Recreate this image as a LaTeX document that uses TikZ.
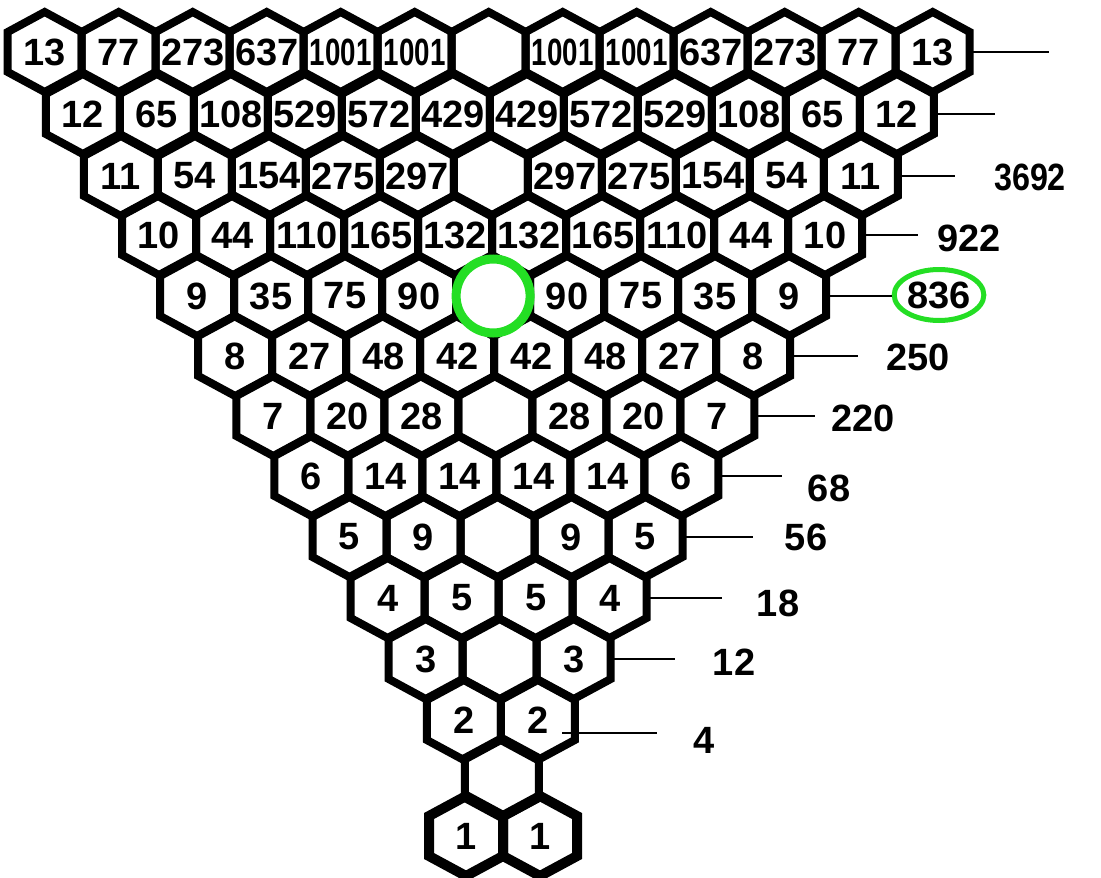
\documentclass[tikz,border=0pt]{standalone}
\usepackage{fontspec}
\setmainfont{Liberation Sans}
\usetikzlibrary{shapes.geometric}
\definecolor{ringgreen}{RGB}{36,222,36}
\newcommand\tightnum[1]{\scalebox{0.73}[1]{#1}}
\newcommand\nonum{}

\begin{document}
\begin{tikzpicture}[x=0.5pt, y=-0.5pt,
    cell/.style    = {inner sep=0pt, minimum width=37pt, minimum height=40pt,
                      font=\fontsize{19}{21}\selectfont\bfseries},
    total/.style   = {inner sep=0pt, font=\fontsize{19}{21}\selectfont\bfseries},
    hexline/.style = {line width=4pt, line join=miter},
    tick/.style    = {line width=1pt},
    hexcell/.pic   = {\draw[hexline] (0,-40) -- (37,-20) -- (37,20) -- (0,40)
                                     -- (-37,20) -- (-37,-20) -- cycle;},
  ]
    \useasboundingbox (0,0) rectangle (1101,877);

    % honeycomb, top row first
    \foreach \r/\y/\n/\vals in {
        14/52/13/{13,77,273,637,\tightnum{1001},\tightnum{1001},\nonum,\tightnum{1001},\tightnum{1001},637,273,77,13},
        13/114/12/{12,65,108,529,572,429,429,572,529,108,65,12},
        12/176/11/{11,54,154,275,297,\nonum,297,275,154,54,11},
        11/235/10/{10,44,110,165,132,132,165,110,44,10},
        10/296/9/{9,35,75,90,\nonum,90,75,35,9},
        9/356/8/{8,27,48,42,42,48,27,8},
        8/416/7/{7,20,28,\nonum,28,20,7},
        7/476/6/{6,14,14,14,14,6},
        6/537/5/{5,9,\nonum,9,5},
        5/598/4/{4,5,5,4},
        4/659/3/{3,\nonum,3},
        3/720/2/{2,2}}
    {
      \foreach \v [count=\i] in \vals {
        \pgfmathsetmacro\x{503-(\r-1)*1.1+(\i-(\n+1)/2)*74}
        \pic at (\x,\y) {hexcell};
        \node[cell] (c\r-\i) at (\x,\y) {\v};
      }
    }

    % the lone hex and the bottom pair
    \pic at (501.9,778) {hexcell};
    \foreach \i/\x in {1/466, 2/540} {
      \pic[hexline/.append style={line width=5pt}] at (\x,836) {hexcell};
      \node[cell] (c1-\i) at (\x,836) {1};
    }

    \node[circle, draw=ringgreen, line width=4.5pt, fill=white,
          minimum size=37pt, inner sep=0pt] (hole) at (c10-5) {};

    % row totals
    \node[total] (t12) at (1030,177) {\scalebox{0.85}[1]{3692}};
    \node[total] (t11) at (969,238)  {922};
    \node[total, ellipse, draw=ringgreen, line width=2.5pt,
          minimum width=43.5pt, minimum height=25.5pt] (t10) at (939,295) {836};
    \node[total] (t9)  at (918,357)  {250};
    \node[total] (t8)  at (863,418)  {220};
    \node[total] (t7)  at (829,488)  {68};
    \node[total] (t6)  at (806,537)  {56};
    \node[total] (t5)  at (778,603)  {18};
    \node[total] (t4)  at (734,662)  {12};
    \node[total] (t3)  at (704,740)  {4};

    \foreach \r/\ex in {14/1049, 13/995, 12/955, 11/918, 9/858,
                        8/815, 7/782, 6/753, 5/722, 4/675}
      \coordinate (e\r) at (\ex,0);
    \foreach \r/\n in {14/13, 13/12, 12/11, 11/10, 9/8, 8/7, 7/6, 6/5, 5/4, 4/3}
      \draw[tick] (c\r-\n.east) -- (c\r-\n.east -| e\r);
    \draw[tick] (c10-9.east) -- (c10-9.east -| t10.west);
    \draw[tick] ([xshift=-6.4pt, yshift=-6.5pt]c3-2.east) -- ++(95,0);
\end{tikzpicture}
\end{document}
